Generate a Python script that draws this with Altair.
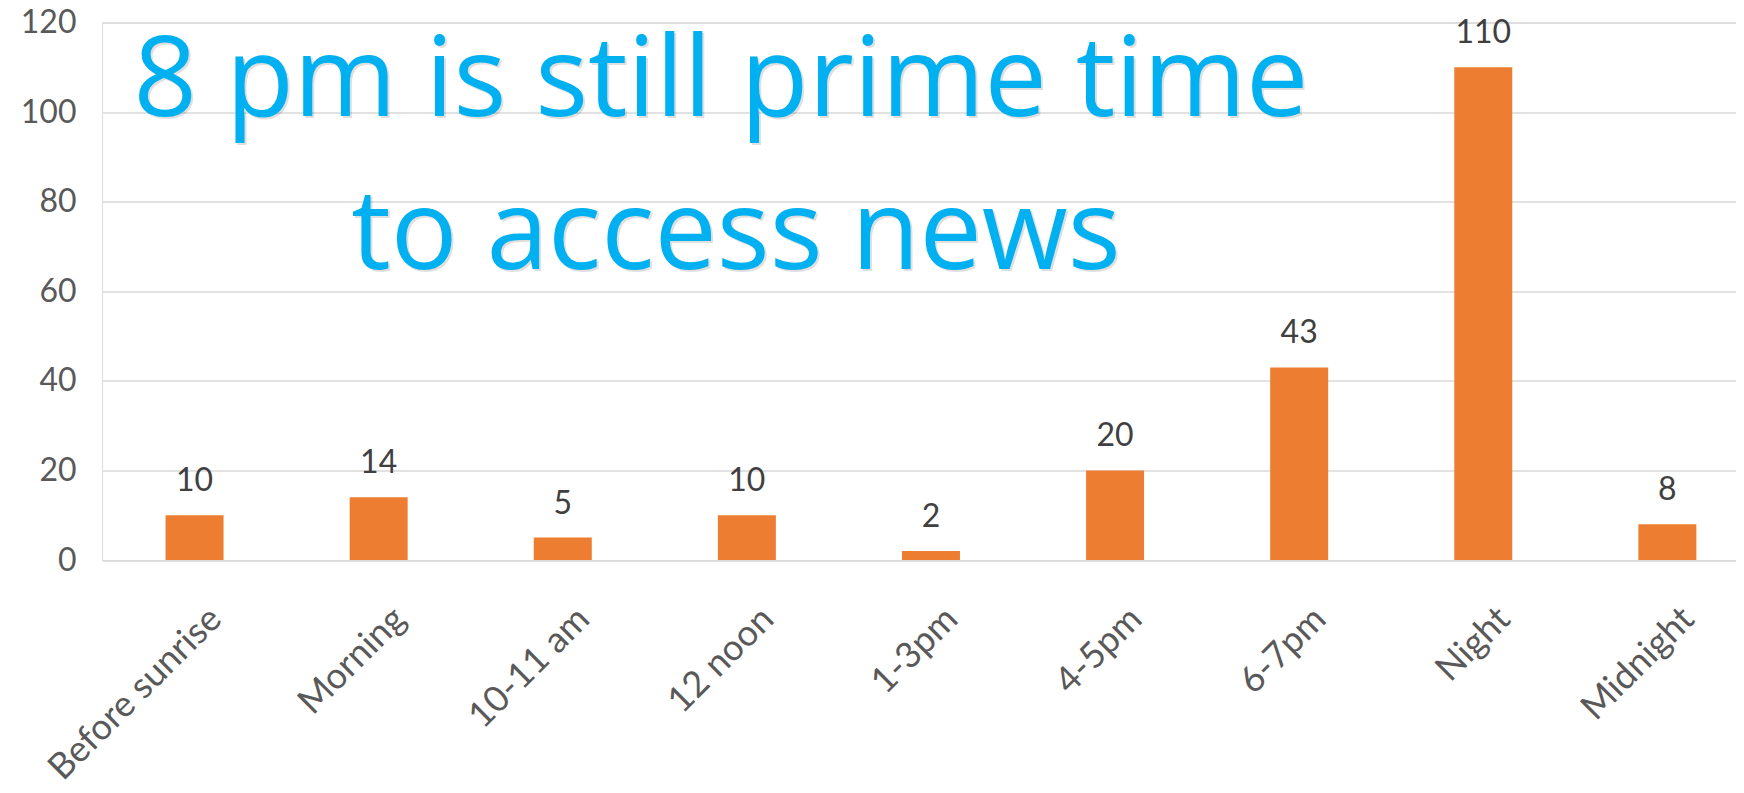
import altair as alt
import pandas as pd

categories = ["Before sunrise", "Morning", "10-11 am", "12 noon", "1-3pm",
              "4-5pm", "6-7pm", "Night", "Midnight"]
values = [10, 14, 5, 10, 2, 20, 43, 110, 8]
y_ticks = [0, 20, 40, 60, 80, 100, 120]
title_lines = ["8 pm is still prime time", "to access news"]

df = pd.DataFrame({"slot": categories, "count": values})

W = 1634
H = 537.5
FONT = "Lato"
TITLE_FONT = "Open Sans"

x_enc = alt.X(
    "slot:N", sort=categories,
    scale=alt.Scale(paddingInner=0.685, paddingOuter=0.2803, align=0.616),
    axis=alt.Axis(title=None, labelAngle=-45, labelFontSize=36, labelFont=FONT,
                  labelColor="#595959", ticks=False, domain=False, grid=False,
                  labelPadding=41, labelOffset=9, labelLimit=500,
                  labelOverlap=False),
)
y_enc = alt.Y(
    "count:Q",
    scale=alt.Scale(domain=[0, 120], nice=False),
    axis=alt.Axis(title=None, values=y_ticks, labelFontSize=32, labelFont=FONT,
                  labelColor="#595959", ticks=False, domain=False,
                  gridColor="#D9D9D9", gridWidth=1.5, labelPadding=26),
)

base = alt.Chart(df).encode(x=x_enc, y=y_enc)
bars = base.mark_bar(color="#ED7D31")
labels = base.mark_text(dy=-24, baseline="alphabetic", fontSize=32, font=FONT,
                        color="#404040").encode(text="count:Q")


def title_layer(text, cx, by, color, opacity=1.0, shift=0):
    return alt.Chart(pd.DataFrame({"t": [text]})).mark_text(
        fontSize=111, font=TITLE_FONT, color=color, opacity=opacity,
        baseline="alphabetic", align="center", dx=shift, dy=shift
    ).encode(x=alt.value(cx), y=alt.value(by), text="t:N")


s1 = title_layer(title_lines[0], 619, 93.5, "#000000", 0.12, 2)
s2 = title_layer(title_lines[1], 634, 246.5, "#000000", 0.12, 2)
t1 = title_layer(title_lines[0], 619, 93.5, "#00B0F0")
t2 = title_layer(title_lines[1], 634, 246.5, "#00B0F0")

chart = alt.layer(bars, labels, s1, s2, t1, t2).properties(
    width=W, height=H,
    padding={"left": 94, "top": 14.5, "right": 0, "bottom": 225},
    autosize=alt.AutoSizeParams(type="none"),
).configure_view(stroke=None).configure(font=FONT, background="white")

chart.save("out.html", embed_options={"renderer": "svg", "actions": False})
